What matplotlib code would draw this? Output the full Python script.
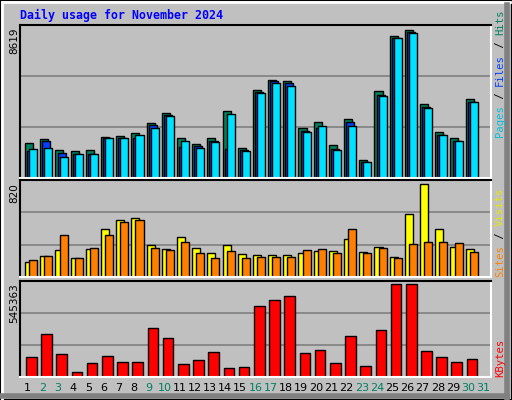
import matplotlib
matplotlib.use("Agg")
import matplotlib.pyplot as plt
from matplotlib.patches import Rectangle
import numpy as np

days = list(range(1, 32))
weekend_days = [2, 3, 9, 10, 16, 17, 23, 24, 30, 31]
hits = [1947,2174,1550,1493,1550,2287,2344,2514,3081,3648,2230,1890,2230,3761,1663,
        4952,5519,5462,2797,3137,1833,3308,1040,4895,8014,8354,4158,2570,2230,4442]
files = [1512,2060,1436,1380,1380,2230,2230,2230,2967,3534,1720,1777,2060,1607,1550,
         4820,5462,5349,2627,2835,1607,3137,926,4668,7900,8240,3988,2400,2060,4271]
pages = [1607,1663,1210,1380,1380,2230,2230,2400,2797,3478,2060,1663,2003,3591,1493,
         4782,5349,5180,2570,2911,1550,2911,926,4612,7900,8184,3931,2400,2060,4271]
visits = [130,175,232,164,240,410,478,495,274,240,342,249,206,274,198,
          189,189,189,206,223,223,325,215,257,172,529,783,410,257,240]
sites = [147,181,359,164,249,351,461,478,249,232,300,206,164,223,164,
         172,172,172,232,240,206,410,206,249,164,283,300,300,291,215]
kbytes = [111360,243840,128640,30720,76800,117120,82560,82560,278400,220800,71040,94080,
          140160,53760,59520,405120,439680,462720,134400,151680,76800,232320,65280,266880,
          526080,526080,145920,111360,82560,99840]
max_hits = 8619
max_visits = 820
max_kbytes = 545363

W, H = 512, 400
BG = "#C0C0C0"
fig = plt.figure(figsize=(W/100, H/100), dpi=100, facecolor=BG)

fig.patches.append(Rectangle((0, 0), 1, 1, transform=fig.transFigure, fill=False,
                             edgecolor="black", lw=1.5))
fig.add_artist(plt.Line2D([2/W, 2/W], [0, 1-2/H], color="white", lw=2, transform=fig.transFigure))
fig.add_artist(plt.Line2D([2/W, 1-2/W], [1-2/H, 1-2/H], color="white", lw=2, transform=fig.transFigure))
fig.add_artist(plt.Line2D([1-5/W, 1-5/W], [0, 1-5/H], color="#808080", lw=4, transform=fig.transFigure))
fig.add_artist(plt.Line2D([0, 1-5/W], [4/H, 4/H], color="#808080", lw=4, transform=fig.transFigure))

def ax_at(x0, y0, x1, y1):
    ax = fig.add_axes([x0/W, 1-y1/H, (x1-x0)/W, (y1-y0)/H])
    ax.set_facecolor(BG)
    ax.set_xlim(0.5, 31.5)
    ax.set_xticks([]); ax.set_yticks([])
    for s in ["top", "left"]:
        ax.spines[s].set_color("black")
    for s in ["bottom", "right"]:
        ax.spines[s].set_color("white")
    for sp in ax.spines.values():
        sp.set_linewidth(1.5)
    return ax

x = np.arange(1, 31)
bk = dict(edgecolor="black", linewidth=1, align="edge")

ax1 = ax_at(20, 25, 491, 178)
ax1.set_ylim(0, max_hits)
for g in (max_hits/3, 2*max_hits/3):
    ax1.axhline(g, color="#808080", lw=1.2, zorder=0)
ax1.bar(x-0.17, hits, 0.53, color="#00805C", **bk)
ax1.bar(x-0.03, files, 0.53, color="#0040FF", **bk)
ax1.bar(x+0.1, pages, 0.53, color="#00E0FF", **bk)

ax2 = ax_at(20, 180, 491, 277)
ax2.set_ylim(0, max_visits)
for g in (max_visits/3, 2*max_visits/3):
    ax2.axhline(g, color="#808080", lw=1.2, zorder=0)
ax2.bar(x-0.17, visits, 0.53, color="#FFFF00", **bk)
ax2.bar(x+0.1, sites, 0.53, color="#FF8000", **bk)

ax3 = ax_at(20, 281, 491, 377)
ax3.set_ylim(0, max_kbytes)
for g in (max_kbytes/3, 2*max_kbytes/3):
    ax3.axhline(g, color="#808080", lw=1.2, zorder=0)
ax3.bar(x-0.1, kbytes, 0.7, color="#FF0000", **bk)

for d in days:
    col = "#008060" if d in weekend_days else "black"
    px = 20 + (d - 0.5) / 31 * 471
    fig.text(px/W, 1-388/H, str(d), color=col, fontsize=8, ha="center", va="center",
             family="DejaVu Sans")

fig.text(20/W, 1-15/H, "Daily usage for November 2024", color="#0000FF", fontsize=8.4,
         weight="bold", family="DejaVu Sans Mono", va="center", ha="left")

for label, ytop in (("8619", 28), ("820", 183), ("545363", 283)):
    fig.text(14/W, 1-ytop/H, label, rotation=90, fontsize=7.5, family="DejaVu Sans",
             ha="center", va="top")

fs = 7.6
cw = 0.602 * fs * 100 / 72
def vlabel(segs, ybottom):
    y = ybottom
    for txt, col in segs:
        fig.text(500/W, 1-y/H, txt, rotation=90, color=col, fontsize=fs,
                 family="DejaVu Sans Mono", ha="center", va="bottom")
        y -= len(txt) * cw

vlabel([("Pages", "#00C0E0"), (" / ", "black"), ("Files", "#0040FF"),
        (" / ", "black"), ("Hits", "#008060")], 137)
vlabel([("Sites", "#FF8000"), (" / ", "black"), ("Visits", "#E8E800")], 277)
vlabel([("KBytes", "#FF0000")], 377)

fig.savefig("out.png", dpi=100, facecolor=BG)
